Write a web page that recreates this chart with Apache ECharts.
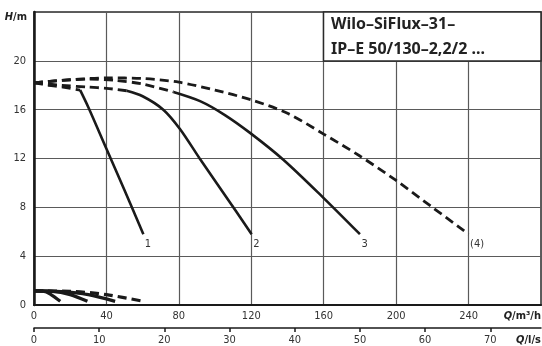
<!DOCTYPE html>
<html><head><meta charset="utf-8">
<script src="https://cdn.jsdelivr.net/npm/echarts@6/dist/echarts.min.js"></script>
<style>html,body{margin:0;padding:0;background:#fff}#c{width:542px;height:346px}</style>
</head><body><div id="c"></div>
<script>
// ---- data ----
const qMaxM3h = 280;
const hMax = 24;
const qTicksLs = [0, 10, 20, 30, 40, 50, 60, 70];
const curveLabels = ['1', '2', '3', '(4)'];
const titleLines = ['Wilo–SiFlux–31–', 'IP–E 50/130–2,2/2 ...'];
// solid working ranges of Q/H curves (Q in m³/h, H in m)
const curve1 = [[25.5,17.6],[30,16.2],[40,12.8],[50,9.4],[60.4,5.8]];
const curve2 = [[51.2,17.55],[60,17.1],[71.4,16.0],[80.7,14.4],[91.5,12.0],[105,9.1],[120.2,5.8]];
const curve3 = [[77,17.45],[91.7,16.7],[105,15.6],[119.3,14.1],[137.7,11.9],[159.7,8.8],[180,5.8]];
// dashed parts
const dash1 = [[0,18.2],[8,18.0],[16,17.85],[25.5,17.6]];
const dash2 = [[0,18.2],[15,18.0],[30,17.85],[40,17.75],[51.2,17.55]];
const dash3 = [[0,18.2],[15,18.4],[30,18.5],[45,18.4],[60,18.1],[77,17.45]];
const dash4 = [[0,18.2],[20,18.45],[40,18.6],[60,18.55],[80,18.25],[100,17.6],[120,16.8],[140,15.7],[160,14.0],[180,12.2],[200,10.2],[220,8.0],[240,5.8]];
// low curves near the bottom
const low1 = [[0,1.15],[5,1.13],[9,0.9],[14.5,0.3]];
const low2 = [[0,1.15],[10,1.12],[20,0.85],[29.5,0.3]];
const low3 = [[0,1.15],[15,1.1],[30,0.85],[44.8,0.3]];
const low4 = [[0,1.15],[20,1.12],[40,0.85],[60.4,0.3]];

// ---- chart ----
const FONT = "'Liberation Sans Narrow','DejaVu Sans Condensed','Liberation Sans',sans-serif";
const INK = '#1a1a1a';
const chart = echarts.init(document.getElementById('c'), null, {renderer: 'canvas'});

function solid(data, label) {
  const s = {type: 'line', data, xAxisIndex: 0, yAxisIndex: 0, showSymbol: false, symbol: 'none',
    smooth: 0.3, lineStyle: {color: INK, width: 2.6}, silent: true, z: 5};
  if (label) s.endLabel = {show: true, formatter: label, distance: 0, offset: [1.5, 10],
    fontSize: 11, color: '#333', fontFamily: FONT};
  return s;
}
function dashed(data, label, w) {
  const s = solid(data, label);
  s.lineStyle = {color: INK, width: w || 2.8, type: [9, 5]};
  return s;
}
function low(data) {
  const s = solid(data);
  s.lineStyle = {color: INK, width: 3.2};
  return s;
}

const option = {
  animation: false,
  grid: {left: 34, right: 1, top: 12, bottom: 40, show: true, borderColor: '#2a2a2a', borderWidth: 1.5},
  xAxis: [{
    type: 'value', min: 0, max: qMaxM3h, interval: 40, position: 'bottom',
    axisLine: {show: true, lineStyle: {color: INK, width: 2}},
    axisTick: {show: false},
    axisLabel: {margin: 6, showMaxLabel: false, fontSize: 11, color: '#333', fontFamily: FONT},
    splitLine: {show: true, lineStyle: {color: '#5a5a5a', width: 1.2}}
  }, {
    type: 'value', min: 0, max: qMaxM3h / 3.6, position: 'bottom', offset: 23,
    axisLine: {show: true, lineStyle: {color: INK, width: 1.5}},
    axisTick: {show: true, customValues: qTicksLs, length: 4, lineStyle: {color: INK, width: 1.5}},
    axisLabel: {customValues: qTicksLs, margin: 7, fontSize: 11, color: '#333', fontFamily: FONT},
    splitLine: {show: false}
  }],
  yAxis: {
    type: 'value', min: 0, max: hMax, interval: 4,
    axisLine: {show: true, lineStyle: {color: INK, width: 2.5}},
    axisTick: {show: false},
    axisLabel: {margin: 8, showMaxLabel: false, fontSize: 11, color: '#333', fontFamily: FONT},
    splitLine: {show: true, lineStyle: {color: '#5a5a5a', width: 1.2}}
  },
  series: [
    dashed(dash1), dashed(dash2), dashed(dash3), dashed(dash4, curveLabels[3]),
    solid(curve1, curveLabels[0]), solid(curve2, curveLabels[1]), solid(curve3, curveLabels[2]),
    low(low1), low(low2), low(low3), dashed(low4, null, 3.2)
  ],
  graphic: [
    {type: 'rect', z: 100, shape: {x: 323.5, y: 12, width: 217.5, height: 49},
      style: {fill: '#fff', stroke: '#2a2a2a', lineWidth: 1.5}},
    {type: 'text', z: 101, left: 331, top: 16,
      style: {text: titleLines[0], font: "bold 16px 'Noto Sans', sans-serif", fill: '#222'}},
    {type: 'text', z: 101, left: 331, top: 41,
      style: {text: titleLines[1], font: "bold 16px 'Noto Sans', sans-serif", fill: '#222'}},
    {type: 'text', z: 101, right: 515, top: 12,
      style: {text: '{i|H}{r|/m}', rich: {
        i: {fontStyle: 'italic', fontWeight: 'bold', fontSize: 11, fontFamily: FONT, fill: '#222'},
        r: {fontWeight: 'bold', fontSize: 11, fontFamily: FONT, fill: '#222'}}}},
    {type: 'text', z: 101, right: 1, top: 311,
      style: {text: '{i|Q}{r|/m³/h}', rich: {
        i: {fontStyle: 'italic', fontWeight: 'bold', fontSize: 11, fontFamily: FONT, fill: '#222'},
        r: {fontWeight: 'bold', fontSize: 11, fontFamily: FONT, fill: '#222'}}}},
    {type: 'text', z: 101, right: 1, top: 335,
      style: {text: '{i|Q}{r|/l/s}', rich: {
        i: {fontStyle: 'italic', fontWeight: 'bold', fontSize: 11, fontFamily: FONT, fill: '#222'},
        r: {fontWeight: 'bold', fontSize: 11, fontFamily: FONT, fill: '#222'}}}}
  ]
};
chart.setOption(option);
</script>
</body></html>
